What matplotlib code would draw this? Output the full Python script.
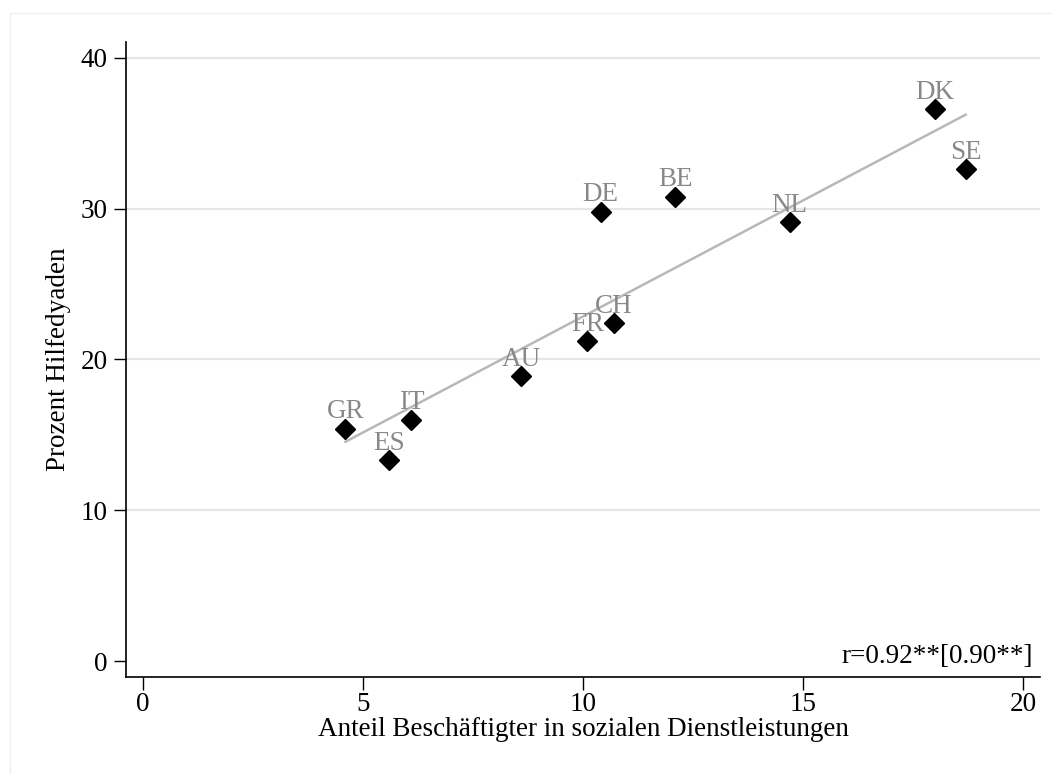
import numpy as np
import matplotlib.pyplot as plt
from matplotlib.patches import Rectangle

plt.rcParams['font.family'] = ['Liberation Serif', 'DejaVu Serif']

# Daten
countries = ['GR', 'ES', 'IT', 'AU', 'FR', 'CH', 'DE', 'BE', 'NL', 'DK', 'SE']
dienst = [4.6, 5.6, 6.1, 8.6, 10.1, 10.7, 10.4, 12.1, 14.7, 18.0, 18.7]
hilfe = [15.4, 13.3, 16.0, 18.9, 21.2, 22.4, 29.8, 30.8, 29.1, 36.6, 32.6]
xticks = [0, 5, 10, 15, 20]
yticks = [0, 10, 20, 30, 40]

fs = 19.5

fig = plt.figure(figsize=(10.52, 7.74), dpi=100)
fig.patches.append(Rectangle((10 / 1052, -0.1), 1.2, 1.1 - 13 / 774, transform=fig.transFigure,
                             fill=False, edgecolor='#efefef', lw=1.0))
ax = fig.add_axes([126 / 1052, 97 / 774, 914 / 1052, 635 / 774])

# Gitter
for yv in yticks[1:]:
    ax.axhline(yv, color='#e6e6e6', lw=1.5, zorder=0)

# Regressionsgerade
x = np.array(dienst)
y = np.array(hilfe)
b, a = np.polyfit(x, y, 1)
xs = np.array([x.min(), x.max()])
ax.plot(xs, a + b * xs, color='#b8b8b8', lw=1.8, zorder=1)

# Punkte
ax.plot(x, y, 'D', color='black', ms=10.5, zorder=3, linestyle='none')
for c, xi, yi in zip(countries, dienst, hilfe):
    ax.annotate(c, (xi, yi), xytext=(0, 7.5), textcoords='offset points',
                ha='center', va='baseline', color='#888888', fontsize=fs, zorder=4)

ax.text(0.992, 0.012, 'r=0.92**[0.90**]', transform=ax.transAxes,
        ha='right', va='bottom', fontsize=fs)

ax.set_xlim(-0.39, 20.39)
ax.set_ylim(-1.06, 41.05)
ax.set_xticks(xticks)
ax.set_yticks(yticks)
ax.tick_params(labelsize=fs, length=9, width=1, direction='out', pad=4)
ax.tick_params(axis='x', pad=2)
ax.set_xlabel('Anteil Beschäftigter in sozialen Dienstleistungen', fontsize=fs, labelpad=0)
ax.set_ylabel('Prozent Hilfedyaden', fontsize=fs, labelpad=7)

for s in ['top', 'right']:
    ax.spines[s].set_visible(False)
for s in ['left', 'bottom']:
    ax.spines[s].set_linewidth(1.2)

fig.savefig('out.png', dpi=100)
